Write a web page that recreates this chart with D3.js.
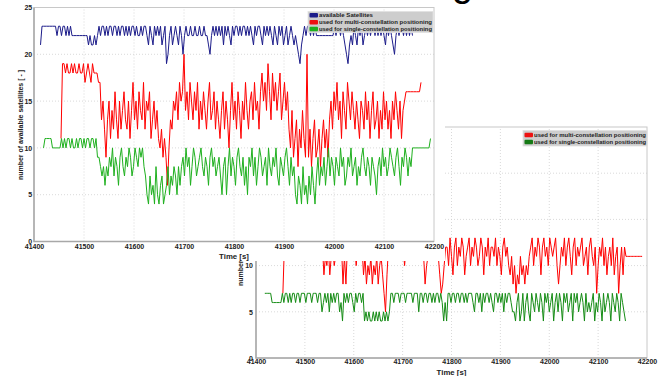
<!DOCTYPE html>
<html><head><meta charset="utf-8">
<script src="https://cdn.jsdelivr.net/npm/d3@7"></script>
<style>
body{margin:0;background:#fff}
svg{display:block}
</style>
</head><body>
<svg id="c" width="663" height="376"></svg>
<script>
// sampling interval of the logged satellite counts [s]
const step = 3;
const xTicks = [41400, 41500, 41600, 41700, 41800, 41900, 42000, 42100, 42200];
const yTicks = [0, 5, 10, 15, 20, 25];
const xTitle = "Time [s]";
const yTitle = "number of available satellites [ - ]";
const legendA = ["available Satellites", "used for multi-constellation positioning", "used for single-constellation positioning"];
const legendB = ["used for multi-constellation positioning", "used for single-constellation positioning"];

// Run A: all visible satellites and those used for positioning
const availableStart = 41413;
const available = [
 21,23,23,23,23,23,23,23,23,23,23,
 22,23,23,22,23,23,22,23,22,23,22,
 22,22,22,22,22,22,22,22,22,22,
 21,22,21,21,22,21,22,
 23,22,23,23,22,23,22,23,23,22, 23,23,22,23,22,23,23,22,23,22, 23,22,23,23,22,23,22,22,23,22, 23,23,22,21,23,22,21,23,22,23, 22,
 23,21,22,23,19,20,22,23,21,22, 23,22,21,23,22,20,
 22,23,22,22,23,22,22,23,22,22, 23,22,22,23,22,22,21,
 20,
 22,23,22,23,22,23,
 22,23,21,23,22,23,22,21,23,22, 23,23,22,23,
 22,23,23,22,23,22,23,
 22,21,23,22,23,23,22,21,23,22, 23,22,23,
 22,21,23,22,21,23,22,23,21,22, 23,21,22,23,22,21,22,21,
 20,19,21,
 22,23,22,23,23,22,23,22,23,22,
 22,22,22,22,22,22,22,22,22,22,22,
 23,22,23,23,22,23,22,21,
 20,19,21,22,
 21,23,22,21,23,22,23,21,22,
 23,22,23,22,23,23,22,23,22,23, 22,23,22,21,23,22,23,22,21,
 20,
 22,23,22,23,23,22,23,22,23,22,23,22
];
const multiStart = 41454;
const multi = [
 11,19,
 19,18,19,18,18,19,18,19,18,18, 19,18,18,19,17,18,19,18,17,19, 18,
 18,18,17,17,
 13,15,12,9,13,15,11,
 14,12,16,13,11,15,12,14,16,13, 12,15,11,14,17,13,15,12,16,14, 13,17,12,15,14,16,11,13,15,12, 14,11,
 10,12,9,11,9,6,
 10,13,12,15,14,16,13,17,15,16,
 20,
 14,16,13,17,15,13,16,14,17,12, 15,13,16,14,12,15,17,13,14,16, 12,15,13,
 11,14,16,12,15,13,10,14,17,13, 15,12,16,14,11,15,13,17,14,12, 15,16,13,17,14,15,12,16,
 18,15,17,14,19,16,13,18,15,17, 14,16,18,13,15,17,14,16,
 12,10,14,9,11,13,8,12,10,14,11,9,
 20,
 9,12,8,11,13,9,10,12,8,11, 13,10,12,9,
 13,15,12,16,14,17,13,15,11,16, 14,12,17,15,13,16,14,12,15,
 13,11,15,14,12,16,13,15,11,14, 16,12,13,15,11,14,12,16,13,15, 12,14,11,15,13,16,14,
 12,15,11,14,15,
 16,16,16,16,16,16,16,16,16,16,17
];
const singleStart = 41419;
const single = [
 10,11,11,11,11,11,
 10,10,10,10,10,10,
 11,10,11,10,11,11,10,11,10,10, 11,10,11,11,10,11,10,11,11,10, 11,11,10,
 11,9,9,8,7,8,6,
 8,7,9,8,10,7,9,8,6,9, 10,8,7,9,8,10,9,7,8,10, 9,8,10,
 9,10,8,7,
 5,4,7,5,6,4,8,5,4,6, 7,4,5,
 6,8,5,7,6,8,7,5,8,6,
 8,9,7,10,8,9,6,8,10,9, 7,8,9,10,8,7,9,8,6,9, 10,8,9,7,8,9,
 7,5,8,9,5,8,10,7,9,8, 6,9,10,8,7,9,6,8,5,9,
 8,10,7,9,6,8,10,9,7,8, 9,6,10,8,7,9,8,10,7,6, 9,8,7,9,10,8,6,9,7,8,
 5,4,7,6,4,8,5,6,
 4,7,5,8,6,4,7,9,6,
 8,7,9,6,8,10,7,9,8,6, 9,8,7,10,8,9,6,7,9,8, 10,7,8,9,6,8,7,9,10,8, 7,9,8,6,9,8,7,
 5,
 8,9,7,10,8,9,7,8,10,9, 8,7,9,10,8,6,9,8,10,9, 7,9,8,10,
 10,10,10,10,10,10,10,10,10,10,10,
 11
];

// Run B: satellites used for positioning
const multiBStart = 41455;
const multiB = [
 7,
 12,11,12,12,11,12,12,11,12,12, 11,12,12,11,12,12,11,12,11,12, 12,11,12,12,11,12,
 12,9,11,10,12,9,11,12,10,11, 12,11,12,12,
 8,11,8,12,11,
 12,11,12,12,10,12,11,12,12,
 9,11,8,10,9,11,8,10,9,11, 8,10,11,9,
 7,5,9,
 12,11,12,12,11,12,11,12,12,11, 12,10,12,11,12,12,11,12,11,12, 12,11,12,12,11,
 8,10,11,
 12,11,12,12,11,12,11,
 9,7,8,10,12,
 12,10,13,11,9,12,13,10,12,11, 13,12,9,11,12,13,10,12,11,13, 12,10,11,13,12,9,12,11,13,10, 12,12,11,13,10,12,11,9,12,13, 11,12,
 10,9,11,8,10,7,9,8,11,9,10,
 8,10,9,11,
 12,13,10,12,11,13,12,9,12,13, 11,12,10,13,12,11,12,13,10,
 8,10,
 12,11,13,10,12,13,11,9,12,13, 10,12,11,12,13,10,11,12,9,12, 13,11,10,12,
 7,10,
 12,11,13,10,12,9,11,12,10,13, 9,11,12,
 7,10,12,
 9,12,
 11,11,11,11,11,11,11,11,11,11,11,11
];
const singleBStart = 41418;
const singleB = [
 7,7,7,7,7,
 6,6,6,6,6,6,6,
 7,6,7,7,6,7,6,7,7,6, 7,7,6,
 7,7,7,6,7,7,7,6,7,7, 7,6,7,
 7,5,6,7,6,7,5,7,6,7, 6,7,7,5,6,4,7,6,7,6, 7,7,6,5,7,6,7,7,6,7,
 4,5,4,5,4,4,5,4,5,4, 5,4,4,5,4,5,4,5,
 7,7,6,7,7,7,6,7,7,7, 6,7,7,7,7,6,7,7,7,5, 7,7,6,7,7,6,7,7,6,
 7,6,7,7,6,7,6,
 4,6,4,7,
 7,6,7,7,6,7,7,6,7,7, 6,7,6,7,7,
 7,6,5,7,7,6,7,5,7,6, 7,7,6,7,6,5,7,7,6,7, 6,7,5,7,6,7,7,6,5,
 5,4,6,7,4,5,7,4,6,7, 5,4,7,6,5,
 7,6,5,7,6,4,7,6,7,5, 6,7,4,6,7,5,7,6,4,7, 6,7,5,6,7,4,7,6,7,5, 6,7,6,4,7,5,6,
 5,6,7,4,6,5,7,6,4,7, 5,6,7,6,4,7,6,5,7,6, 4,7,6,5,4
];

const FONT = "'Liberation Sans', Arial, sans-serif";
const svg = d3.select("#c");

// slide heading fragment peeking in at the top edge
svg.append("text").attr("x", 452).attr("y", -4)
  .attr("font-family", FONT).attr("font-size", 38).attr("fill", "#000").text("g");

function panel(cfg) {
  const g = svg.append("g");
  if (cfg.bg) {
    g.append("rect").attr("x", cfg.bg[0]).attr("y", cfg.bg[1])
      .attr("width", cfg.bg[2]).attr("height", cfg.bg[3]).attr("fill", "#fff");
  }
  const x = d3.scaleLinear().domain([41400, 42200]).range(cfg.xr);
  const y = d3.scaleLinear().domain([0, 25]).range(cfg.yr);
  const [x0, x1] = cfg.xr, [y0, y1] = cfg.yr;

  // dotted grid
  g.append("g").selectAll("line").data(xTicks.slice(1, -1)).join("line")
    .attr("x1", d => x(d)).attr("x2", d => x(d)).attr("y1", y0).attr("y2", y1)
    .attr("stroke", "#cfcfcf").attr("stroke-width", 0.8).attr("stroke-dasharray", "1,2");
  g.append("g").selectAll("line").data(yTicks.slice(1, -1)).join("line")
    .attr("x1", x0).attr("x2", x1).attr("y1", d => y(d)).attr("y2", d => y(d))
    .attr("stroke", "#cfcfcf").attr("stroke-width", 0.8).attr("stroke-dasharray", "1,2");

  // frame
  g.append("rect").attr("x", x0).attr("y", y1).attr("width", x1 - x0).attr("height", y0 - y1)
    .attr("fill", "none").attr("stroke", "#c8c8c8").attr("stroke-width", 1);
  g.append("path").attr("d", `M${x0},${y1}V${y0}H${x1}`)
    .attr("fill", "none").attr("stroke", "#a8a8a8").attr("stroke-width", 1.5);

  // axes (labels only)
  const ax = g.append("g").attr("transform", `translate(0,${y0})`)
    .call(d3.axisBottom(x).tickValues(xTicks).tickFormat(d3.format("d")).tickSize(0).tickPadding(cfg.xPad));
  const ay = g.append("g").attr("transform", `translate(${x0},0)`)
    .call(d3.axisLeft(y).tickValues(yTicks).tickSize(0).tickPadding(cfg.yPad));
  [ax, ay].forEach(a => {
    a.select(".domain").remove();
    a.attr("font-family", FONT).attr("font-size", 7).attr("font-weight", "bold");
    a.selectAll("text").attr("fill", "#222");
  });

  g.append("text").attr("x", (x0 + x1) / 2).attr("y", cfg.xTitleY)
    .attr("text-anchor", "middle").attr("font-family", FONT).attr("font-size", 7.8)
    .attr("font-weight", "bold").attr("fill", "#222").text(xTitle);
  g.append("text").attr("transform", `translate(${cfg.yTitleX},${cfg.yTitleMid}) rotate(-90)`)
    .attr("text-anchor", "middle").attr("font-family", FONT).attr("font-size", 6.6)
    .attr("font-weight", "bold").attr("fill", "#222")
    .attr("textLength", 110).attr("lengthAdjust", "spacingAndGlyphs").text(yTitle);

  // series
  const line = d3.line().x(d => x(d[0])).y(d => y(d[1]));
  cfg.series.forEach(s => {
    const pts = s.values.map((v, i) => [s.start + step * i, v]);
    g.append("path").datum(pts).attr("d", line)
      .attr("fill", "none").attr("stroke", s.color).attr("stroke-width", 1)
      .attr("stroke-linejoin", "round");
  });

  // legend
  const L = cfg.legend;
  g.append("rect").attr("x", L.box[0]).attr("y", L.box[1]).attr("width", L.box[2]).attr("height", L.box[3])
    .attr("fill", "#cdcdcd").attr("stroke", "#e2e2e2").attr("stroke-width", 0.8);
  const rows = g.append("g").selectAll("g").data(L.items).join("g")
    .attr("transform", (d, i) => `translate(${L.box[0] + 1.5},${L.rows[i]})`);
  rows.append("rect").attr("x", 0).attr("y", -2.3).attr("width", 8.5).attr("height", 4.6)
    .attr("rx", 1).attr("fill", d => d.color);
  rows.append("text").attr("x", 9.5).attr("y", 2.1)
    .attr("font-family", FONT).attr("font-size", 5.8).attr("font-weight", "bold").attr("fill", "#222")
    .attr("textLength", d => d.len).attr("lengthAdjust", "spacingAndGlyphs").text(d => d.label);
}

// Run B panel (behind)
panel({
  xr: [256, 647], yr: [358, 127], xPad: 1.5, yPad: 3,
  xTitleY: 375, yTitleX: 242.5, yTitleMid: 231,
  series: [
    {start: multiBStart, values: multiB, color: "#ff0000"},
    {start: singleBStart, values: singleB, color: "#158c15"}
  ],
  legend: {box: [523, 130.5, 124, 15.5], rows: [135, 142],
    items: [{label: legendB[0], color: "#ee1111", len: 112},
            {label: legendB[1], color: "#157a15", len: 112}]}
});

// Run A panel (on top)
panel({
  bg: [0, 0, 445, 261],
  xr: [34, 434], yr: [241.5, 7.5], xPad: 2.5, yPad: 1.8,
  xTitleY: 259, yTitleX: 22.5, yTitleMid: 125,
  series: [
    {start: availableStart, values: available, color: "#1c1c8a"},
    {start: multiStart, values: multi, color: "#ff0000"},
    {start: singleStart, values: single, color: "#1eb01e"}
  ],
  legend: {box: [308, 11.5, 125, 21], rows: [15.3, 22.3, 29],
    items: [{label: legendA[0], color: "#1c1c8a", len: 54},
            {label: legendA[1], color: "#ee1111", len: 113},
            {label: legendA[2], color: "#1eb01e", len: 113}]}
});
</script>
</body></html>
